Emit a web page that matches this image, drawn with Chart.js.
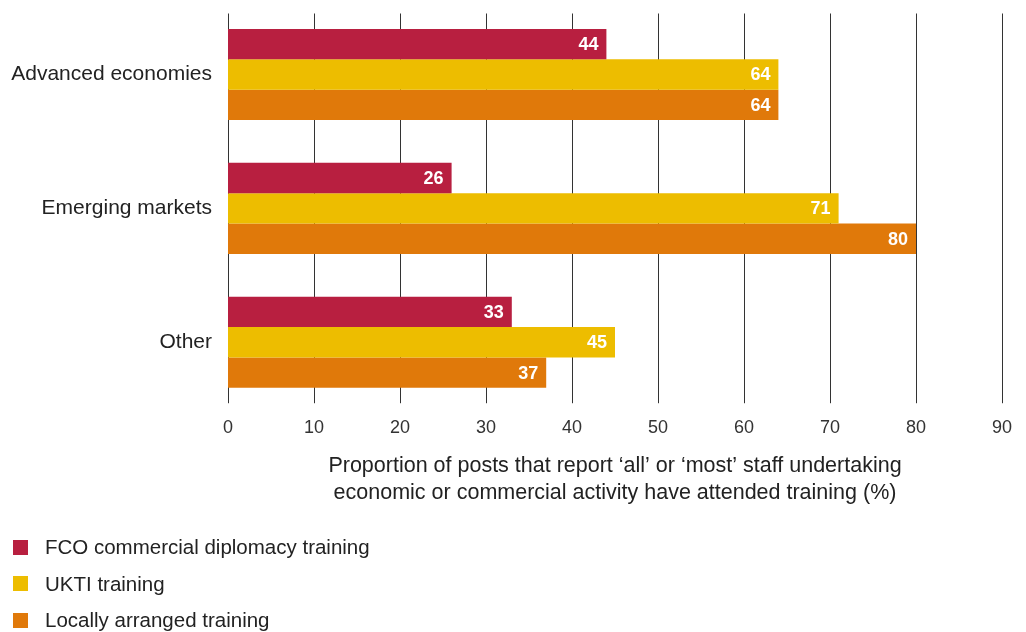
<!DOCTYPE html>
<html>
<head>
<meta charset="utf-8">
<script src="https://cdn.jsdelivr.net/npm/chart.js@4"></script>
<style>
  body { margin: 0; background: #fff; font-family: "Liberation Sans", Arial, sans-serif; }
  #wrap { position: relative; width: 1026px; height: 632px; }
  #legend { position: absolute; left: 13px; top: 529px; }
  .item { display: flex; align-items: center; height: 36.5px; font-size: 20.5px; color: #222; }
  .item span.box { width: 15px; height: 15px; margin-right: 17px; }
</style>
</head>
<body>
<div id="wrap">
  <canvas id="chart"></canvas>
  <div id="legend"></div>
</div>
<script>
// Dados
const categories = ['Advanced economies', 'Emerging markets', 'Other'];
const seriesNames = ['FCO commercial diplomacy training', 'UKTI training', 'Locally arranged training'];
const fcoTraining = [44, 26, 33];
const uktiTraining = [64, 71, 45];
const localTraining = [64, 80, 37];
const axisTitle = [
  'Proportion of posts that report \u2018all\u2019 or \u2018most\u2019 staff undertaking',
  'economic or commercial activity have attended training (%)'
];
const colors = ['#B81F40', '#EDBD00', '#E0790A'];

const fontFamily = '"Liberation Sans", Arial, sans-serif';

// Linhas verticais da grade, um pouco mais curtas que a área do gráfico
const gridPlugin = {
  id: 'gridPlugin',
  beforeDatasetsDraw(chart) {
    const { ctx, chartArea, scales } = chart;
    ctx.save();
    ctx.strokeStyle = '#333';
    ctx.lineWidth = 1;
    scales.x.ticks.forEach(t => {
      const px = Math.round(scales.x.getPixelForValue(t.value)) + 0.5;
      ctx.beginPath();
      ctx.moveTo(px, chartArea.top + 6);
      ctx.lineTo(px, chartArea.bottom - 6);
      ctx.stroke();
    });
    ctx.restore();
  }
};

// Valores escritos dentro da ponta de cada barra
const valueLabels = {
  id: 'valueLabels',
  afterDatasetsDraw(chart) {
    const { ctx } = chart;
    ctx.save();
    ctx.fillStyle = '#fff';
    ctx.font = 'bold 18px ' + fontFamily;
    ctx.textAlign = 'right';
    ctx.textBaseline = 'middle';
    chart.data.datasets.forEach((ds, i) => {
      chart.getDatasetMeta(i).data.forEach((bar, j) => {
        ctx.fillText(ds.data[j], bar.x - 8, bar.y + 1);
      });
    });
    ctx.restore();
  }
};

new Chart(document.getElementById('chart'), {
  type: 'bar',
  data: {
    labels: categories,
    datasets: [fcoTraining, uktiTraining, localTraining].map((d, i) => ({
      label: seriesNames[i],
      data: d,
      backgroundColor: colors[i],
      barPercentage: 1,
      categoryPercentage: 0.68
    }))
  },
  options: {
    indexAxis: 'y',
    responsive: true,
    maintainAspectRatio: false,
    animation: false,
    layout: { padding: { top: 7.5, right: 24, bottom: 125.5, left: 0 } },
    plugins: { legend: { display: false }, tooltip: { enabled: false } },
    scales: {
      x: {
        min: 0,
        max: 90,
        ticks: { stepSize: 10, padding: 8, color: '#333', font: { family: fontFamily, size: 18 } },
        grid: { display: false, drawTicks: false },
        border: { display: false },
        title: {
          display: true,
          text: axisTitle,
          color: '#222',
          font: { family: fontFamily, size: 21.5, lineHeight: 1.26 },
          padding: { top: 5.5, bottom: 0 }
        }
      },
      y: {
        ticks: { padding: 16, color: '#222', font: { family: fontFamily, size: 21 } },
        grid: { display: false, drawTicks: false },
        border: { display: false },
        afterFit(s) {
          s.width = 228;
          s.paddingTop = 0;
          s.paddingBottom = 0;
        }
      }
    }
  },
  plugins: [gridPlugin, valueLabels]
});

// Legenda em lista vertical
const legend = document.getElementById('legend');
seriesNames.forEach((name, i) => {
  const div = document.createElement('div');
  div.className = 'item';
  div.innerHTML = `<span class="box" style="background:${colors[i]}"></span>${name}`;
  legend.appendChild(div);
});
</script>
</body>
</html>
